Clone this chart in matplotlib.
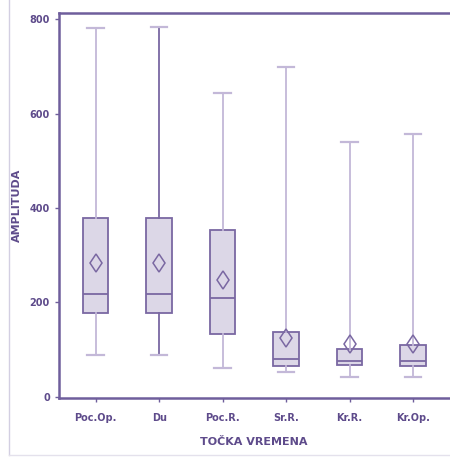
import matplotlib
matplotlib.use("Agg")
import matplotlib.pyplot as plt
from matplotlib.lines import Line2D

# podaci procitani sa slike
kategorije = ["Poc.Op.", "Du", "Poc.R.", "Sr.R.", "Kr.R.", "Kr.Op."]
whis_lo = [88, 88, 60, 53, 42, 42]
q1 = [177, 177, 132, 64, 67, 64]
medijan = [218, 218, 210, 79, 76, 76]
q3 = [378, 379, 353, 137, 101, 109]
whis_hi = [781, 784, 643, 699, 539, 558]
sredina = [283, 283, 248, 125, 111, 111]
yticks = [0, 200, 400, 600, 800]

txt = "#5e4b8b"
edge = "#7a68a2"
fill = "#dcd7e7"
whisk = "#c3b8d8"

fig = plt.figure(figsize=(4.5, 4.57), dpi=100)
ax = fig.add_axes([0.131, 0.129, 0.867, 0.843])

stats = []
for i, k in enumerate(kategorije):
    stats.append(dict(label=k, whislo=whis_lo[i], q1=q1[i], med=medijan[i],
                      q3=q3[i], whishi=whis_hi[i], mean=sredina[i], fliers=[]))

bp = ax.bxp(stats, positions=range(len(kategorije)), widths=0.4,
            showmeans=True, patch_artist=True,
            boxprops=dict(facecolor=fill, edgecolor=edge, linewidth=1.3),
            medianprops=dict(color=edge, linewidth=1.3),
            whiskerprops=dict(color=whisk, linewidth=1.3),
            capprops=dict(color=whisk, linewidth=1.6),
            meanprops=dict(marker="d", markersize=9.5, markerfacecolor="none",
                           markeredgecolor=edge, markeredgewidth=1.1))
for c in bp["caps"]:
    x = c.get_xdata()
    m = (x[0] + x[1]) / 2
    c.set_xdata([m - 0.13, m + 0.13])
# Du ima tamnije brkove
for w in bp["whiskers"][2:4]:
    w.set_color("#7a68a2")

ax.set_xlim(-0.58, 5.57)
ax.set_ylim(-3, 814)
ax.set_yticks(yticks)
ax.set_yticklabels([str(v) for v in yticks])
ax.set_xticks(range(len(kategorije)))
ax.set_xticklabels(kategorije)

for s in ax.spines.values():
    s.set_color("#6f5e9c")
    s.set_linewidth(1.8)
ax.spines["right"].set_visible(False)
ax.tick_params(axis="both", colors="#6f5e9c", labelcolor=txt, labelsize=7,
               length=3, width=1)
ax.tick_params(axis="x", pad=8)
for lab in ax.get_xticklabels() + ax.get_yticklabels():
    lab.set_fontweight("bold")

ax.set_xlabel("TOČKA VREMENA", color=txt, fontsize=8, fontweight="bold", labelpad=10)
ax.set_ylabel("AMPLITUDA", color=txt, fontsize=8, fontweight="bold")
ax.yaxis.set_label_coords(-0.095, 0.5)

# okvir slike
fig.add_artist(Line2D([0.02, 0.02], [0.005, 1.0], color="#d3cfe2", linewidth=1))
fig.add_artist(Line2D([0.02, 1.0], [0.005, 0.005], color="#e4e1ec", linewidth=1))

fig.savefig("out.png", dpi=100)
